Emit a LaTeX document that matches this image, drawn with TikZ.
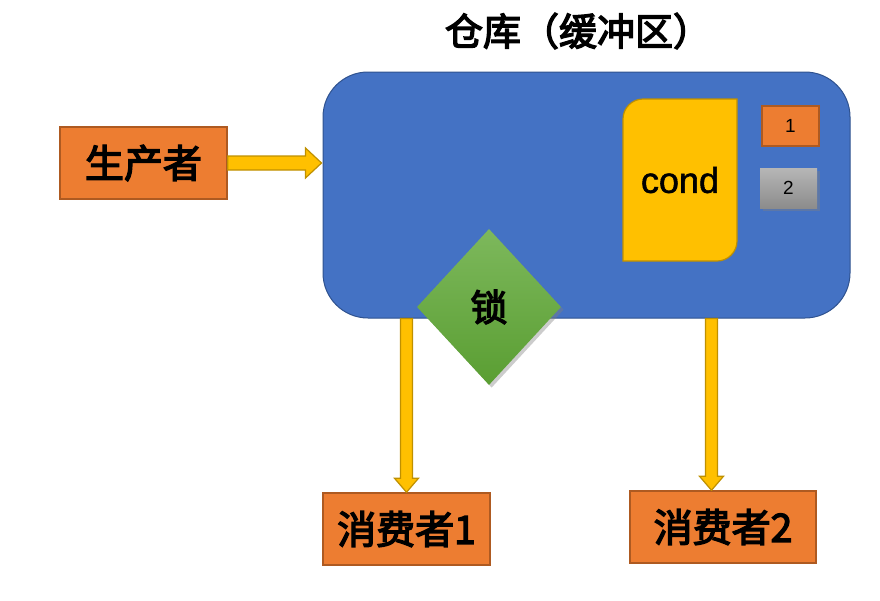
\documentclass[tikz,border=0pt]{standalone}
\usepackage{fontspec}
\setmainfont{Liberation Sans}
\newfontfamily\cjk{Noto Sans CJK SC}[FakeBold=3.5]
\usetikzlibrary{shapes.geometric,calc,shadows}
\definecolor{wareblue}{HTML}{4472C4}
\definecolor{wareblueD}{HTML}{2F528F}
\definecolor{boxorange}{HTML}{ED7D31}
\definecolor{boxorangeD}{HTML}{AE5A21}
\definecolor{arrowyellow}{HTML}{FFC000}
\definecolor{arrowyellowD}{HTML}{BF9000}
\definecolor{grayL}{HTML}{B6B6B6}
\definecolor{grayD}{HTML}{8C8C8C}
\definecolor{greenL}{HTML}{7DB85C}
\definecolor{greenD}{HTML}{5A9E32}
\begin{document}
\begin{tikzpicture}[x=1pt,y=-1pt,
  personbox/.style={draw=boxorangeD, line width=1.5pt, fill=boxorange, inner sep=0pt,
    minimum height=72pt, font=\cjk\fontsize{39}{40}\selectfont},
  blockarrow/.style={fill=arrowyellow, draw=arrowyellowD, line width=1.2pt, line join=miter},
  smallbox/.style={inner sep=0pt, minimum width=57pt, minimum height=40pt, font=\fontsize{19}{20}\selectfont}
]
\useasboundingbox (0,0) rectangle (880,600);
\node[font=\cjk\fontsize{38}{40}\selectfont] (title) at (578,31) {仓库（缓冲区）};
\node[draw=wareblueD, fill=wareblue, line width=1pt, rounded corners=45pt,
  minimum width=527pt, minimum height=246pt] (ware) at (586.5,195) {};
% cond shape
\coordinate (condNW) at (623,99);
\coordinate (condSE) at (737,261);
\draw[fill=arrowyellow, draw=arrowyellowD, line width=1.2pt]
  (condNW |- condSE) -- ($(condNW)+(0,20)$)
  .. controls ($(condNW)+(0,9)$) and ($(condNW)+(9,0)$) .. ($(condNW)+(20,0)$)
  -- (condSE |- condNW) -- ($(condSE)+(0,-20)$)
  .. controls ($(condSE)+(0,-9)$) and ($(condSE)+(-9,0)$) .. ($(condSE)+(-20,0)$)
  -- cycle;
\node[font=\fontsize{36}{40}\selectfont\addfontfeatures{FakeBold=1.5}] (cond) at ($(condNW)!0.5!(condSE)$) {cond};
\node[smallbox, draw=boxorangeD, fill=boxorange, line width=1.2pt] (b1) at (790.5,126) {1};
\node[smallbox, top color=grayL, bottom color=grayD, drop shadow={opacity=0.4}] (b2) at (788.5,188) {2};
\node[personbox, minimum width=167pt] (prod) at (143.5,163) {生产者};
\node[personbox, minimum width=167pt] (c1) at (406.5,529) {消费者1};
\node[personbox, minimum width=186pt] (c2) at (723,527) {消费者2};
\node[diamond, inner sep=0pt, minimum width=144pt, minimum height=156pt,
  top color=greenL, bottom color=greenD, drop shadow={opacity=0.4},
  font=\cjk\fontsize{37}{40}\selectfont] (lock) at (489,307) {锁};
% producer arrow
\coordinate (pa) at (ware.west |- prod.east);
\draw[blockarrow] ($(prod.east)+(0,-7)$) -- ($(pa)+(-17,-7)$) -- ($(pa)+(-17,-15)$)
  -- ($(pa)+(-1,0)$) -- ($(pa)+(-17,15)$) -- ($(pa)+(-17,7)$) -- ($(prod.east)+(0,7)$) -- cycle;
% consumer 1 arrow
\coordinate (t1) at (c1.north |- ware.south);
\draw[blockarrow] ($(t1)+(-6,0)$) -- ($(c1.north)+(-6,-14)$) -- ($(c1.north)+(-12,-14)$)
  -- (c1.north) -- ($(c1.north)+(12,-14)$) -- ($(c1.north)+(6,-14)$) -- ($(t1)+(6,0)$) -- cycle;
% consumer 2 arrow
\coordinate (h2) at ($(c2.north)+(-11.5,0)$);
\coordinate (t2) at (h2 |- ware.south);
\draw[blockarrow] ($(t2)+(-6,0)$) -- ($(h2)+(-6,-14)$) -- ($(h2)+(-12,-14)$)
  -- (h2) -- ($(h2)+(12,-14)$) -- ($(h2)+(6,-14)$) -- ($(t2)+(6,0)$) -- cycle;
\end{tikzpicture}
\end{document}
